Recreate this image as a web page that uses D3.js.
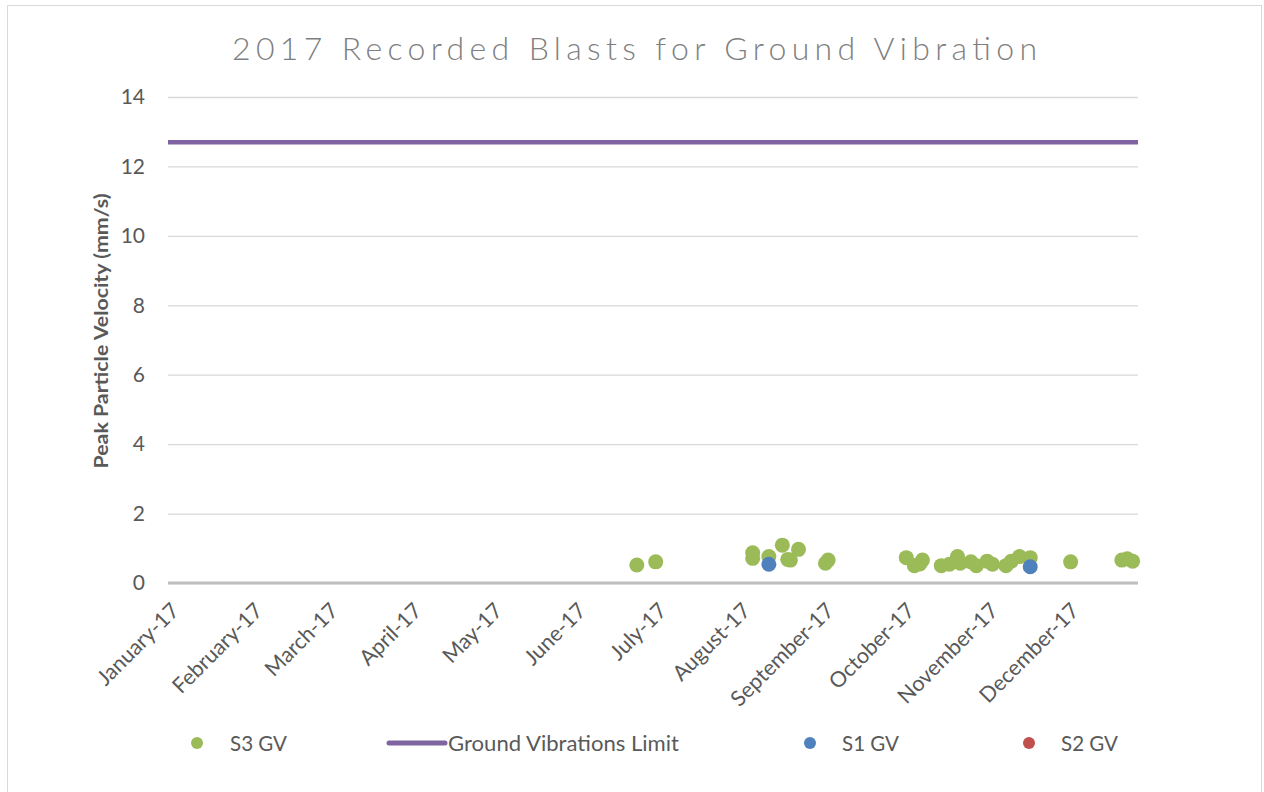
<!DOCTYPE html>
<html>
<head>
<meta charset="utf-8">
<script src="https://cdn.jsdelivr.net/npm/d3@7"></script>
<style>
  html, body { margin: 0; padding: 0; background: #fff; }
  svg { display: block; }
  text { font-family: Lato, "Open Sans", sans-serif; }
</style>
</head>
<body>
<svg id="chart" width="1264" height="792"></svg>
<script>
// ---- Data ----
const chartTitle = "2017 Recorded Blasts for Ground Vibration";
const yAxisTitle = "Peak Particle Velocity (mm/s)";
const axisStart = "2017-01-01";
const axisEnd = "2017-12-27";
const yTicks = [0, 2, 4, 6, 8, 10, 12, 14];

const s3Dates = ["2017-06-24","2017-07-01","2017-08-06","2017-08-06","2017-08-12","2017-08-17","2017-08-19","2017-08-20","2017-08-23",
  "2017-09-02","2017-09-03","2017-10-02","2017-10-05","2017-10-07","2017-10-08","2017-10-15","2017-10-18","2017-10-21","2017-10-22",
  "2017-10-26","2017-10-28","2017-11-01","2017-11-03","2017-11-08","2017-11-10","2017-11-13","2017-11-17","2017-12-02","2017-12-21",
  "2017-12-23","2017-12-25"];
const s3Values = [0.52,0.61,0.87,0.71,0.76,1.09,0.68,0.66,0.97,
  0.57,0.66,0.73,0.50,0.55,0.66,0.50,0.54,0.76,0.57,
  0.61,0.50,0.63,0.54,0.50,0.63,0.76,0.73,0.61,0.66,
  0.70,0.63];

const s1Dates = ["2017-08-12","2017-11-17"];
const s1Values = [0.54, 0.47];

const s2Dates = [];
const s2Values = [];

const limitDates = ["2017-01-01","2017-12-27"];
const limitValues = [12.7, 12.7];

const legendNames = ["S3 GV", "Ground Vibrations Limit", "S1 GV", "S2 GV"];
const colors = { s3: "#9bbb59", limit: "#8064a2", s1: "#4f81bd", s2: "#c0504d" };

// ---- Drawing ----
const parse = d3.timeParse("%Y-%m-%d");
const svg = d3.select("#chart");
const plot = { left: 168, right: 1138, top: 97, bottom: 583 };

// outer border
svg.append("rect").attr("x", 7.5).attr("y", 5.5).attr("width", 1254).attr("height", 790)
  .attr("fill", "#fff").attr("stroke", "#d9d9d9").attr("stroke-width", 1);

const x = d3.scaleTime().domain([parse(axisStart), parse(axisEnd)]).range([plot.left, plot.right]);
const y = d3.scaleLinear().domain([0, 14]).range([plot.bottom, plot.top]);

// title
svg.append("text").attr("x", 232).attr("y", 60).attr("text-anchor", "start")
  .attr("font-size", 32).attr("font-weight", 300).attr("fill", "#7f7f7f")
  .attr("textLength", 805).attr("lengthAdjust", "spacing")
  .text(chartTitle);

// gridlines via axis
const yAxis = d3.axisLeft(y).tickValues(yTicks).tickSize(-(plot.right - plot.left)).tickPadding(23);
const gy = svg.append("g").attr("transform", `translate(${plot.left},0)`).call(yAxis);
gy.select(".domain").remove();
gy.selectAll(".tick line").attr("stroke", "#d9d9d9").attr("stroke-width", 1.3);
gy.selectAll(".tick text").attr("font-size", 21).attr("fill", "#595959")
  .attr("font-family", "Lato, sans-serif");

// x axis labels
const months = d3.timeMonth.range(parse("2017-01-01"), parse("2017-12-31"));
const xAxis = d3.axisBottom(x).tickValues(months).tickFormat(d3.timeFormat("%B-%y")).tickSize(0);
const gx = svg.append("g").attr("transform", `translate(0,${plot.bottom})`).call(xAxis);
gx.select(".domain").remove();
gx.selectAll(".tick text")
  .attr("font-size", 21.5).attr("fill", "#595959").attr("font-family", "Lato, sans-serif")
  .attr("text-anchor", "end")
  .attr("dy", null).attr("y", null)
  .attr("transform", "translate(12,29) rotate(-45)");

svg.append("line").attr("x1", plot.left).attr("x2", plot.right)
  .attr("y1", y(0)).attr("y2", y(0)).attr("stroke", "#bfbfbf").attr("stroke-width", 3);

// y axis title
svg.append("text").attr("transform", `translate(108,331) rotate(-90)`)
  .attr("text-anchor", "middle").attr("font-size", 19.5).attr("font-weight", 700)
  .attr("fill", "#595959").attr("textLength", 275).attr("lengthAdjust", "spacingAndGlyphs")
  .text(yAxisTitle);

// limit line
const limitData = limitDates.map((d, i) => ({ date: parse(d), value: limitValues[i] }));
svg.append("path").datum(limitData)
  .attr("d", d3.line().x(d => x(d.date)).y(d => y(d.value)))
  .attr("stroke", colors.limit).attr("stroke-width", 4.5).attr("fill", "none");

// scatter series
function drawPoints(dates, values, color) {
  const data = dates.map((d, i) => ({ date: parse(d), value: values[i] }));
  svg.append("g").selectAll("circle").data(data).join("circle")
    .attr("cx", d => x(d.date)).attr("cy", d => y(d.value)).attr("r", 7.5)
    .attr("fill", color);
}
drawPoints(s3Dates, s3Values, colors.s3);
drawPoints(s1Dates, s1Values, colors.s1);
drawPoints(s2Dates, s2Values, colors.s2);

// legend
const legY = 743;
const legend = svg.append("g");
const legItems = [
  { name: legendNames[0], type: "dot", color: colors.s3, mx: 197, tx: 230, w: 57 },
  { name: legendNames[1], type: "line", color: colors.limit, mx: 389, tx: 448, w: 231 },
  { name: legendNames[2], type: "dot", color: colors.s1, mx: 810, tx: 842, w: 57 },
  { name: legendNames[3], type: "dot", color: colors.s2, mx: 1029, tx: 1061, w: 57 }
];
legItems.forEach(it => {
  if (it.type === "dot") {
    legend.append("circle").attr("cx", it.mx).attr("cy", legY).attr("r", 6).attr("fill", it.color);
  } else {
    legend.append("line").attr("x1", it.mx).attr("x2", it.mx + 56).attr("y1", legY).attr("y2", legY)
      .attr("stroke", it.color).attr("stroke-width", 5).attr("stroke-linecap", "round");
  }
  legend.append("text").attr("x", it.tx).attr("y", legY + 8).attr("font-size", 22)
    .attr("fill", "#595959").attr("textLength", it.w).attr("lengthAdjust", "spacingAndGlyphs")
    .text(it.name);
});
</script>
</body>
</html>
